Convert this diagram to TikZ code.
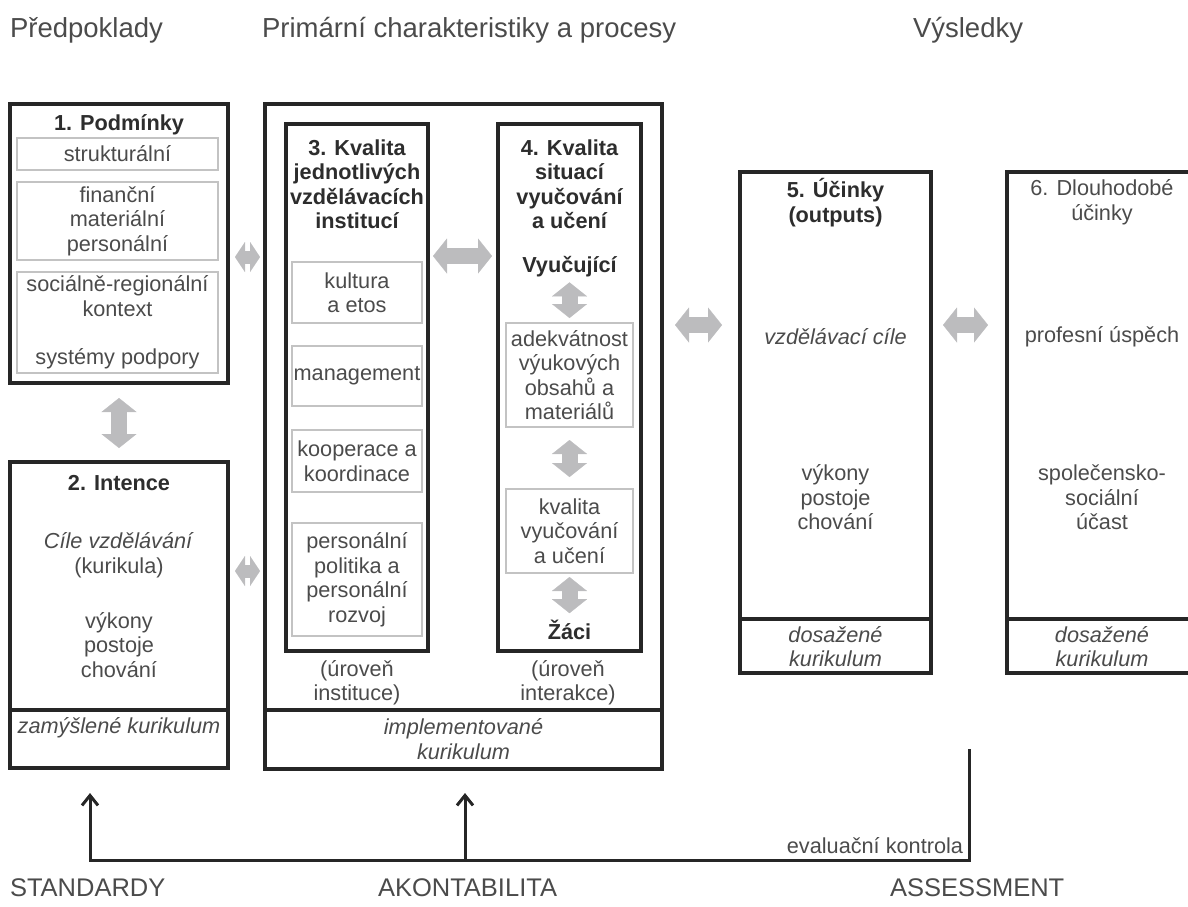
\documentclass[tikz,border=0pt]{standalone}
\usepackage{fontspec}
\setmainfont{Liberation Sans}
\usetikzlibrary{arrows.meta}
\definecolor{boxline}{RGB}{38,38,38}
\definecolor{txtgray}{RGB}{75,75,75}
\definecolor{titlegray}{RGB}{45,45,45}
\definecolor{innerline}{RGB}{195,195,195}
\definecolor{arrowgray}{RGB}{188,188,190}
\begin{document}
\begin{tikzpicture}[x=1pt, y=-1pt,
  every node/.style={inner sep=0pt, outer sep=0pt, align=center, text=txtgray,
    font=\fontsize{21.7}{24.5}\selectfont},
  thickbox/.style={draw=boxline, line width=3.5pt},
  thinbox/.style={draw=innerline, line width=1.2pt},
  ttl/.style={text=titlegray, font=\fontsize{21.7}{24.5}\selectfont\bfseries},
  itl/.style={font=\fontsize{21.7}{24.5}\selectfont\itshape},
  head/.style={anchor=west, font=\fontsize{27.5}{32}\selectfont},
  foot/.style={anchor=west, font=\fontsize{25.5}{30}\selectfont},
  fat/.style={draw=arrowgray, line width=16pt,
    {Triangle[length=14pt,width=35pt,line width=.1pt]}-{Triangle[length=14pt,width=35pt,line width=.1pt]}},
  slimfat/.style={draw=arrowgray, line width=13pt,
    {Triangle[length=10pt,width=30pt,line width=.1pt]}-{Triangle[length=10pt,width=30pt,line width=.1pt]}},
  fb/.style={draw=boxline, line width=3pt}
]
  \useasboundingbox (0,0) rectangle (1188,906);
  \clip (0,0) rectangle (1188,906);

  % headings
  \node[head] (hpred) at (10,30) {Předpoklady};
  \node[head] (hprim) at (262,30) {Primární charakteristiky a procesy};
  \node[head] (hvys) at (913,30) {Výsledky};

  % 1. Podminky
  \node[thickbox, minimum width=218pt, minimum height=279pt] (b1) at (119,243.5) {};
  \node[ttl] (t1) at (119,125) {1. Podmínky};
  \node[thinbox, minimum width=201pt, minimum height=32pt] (p1) at (117.5,154) {strukturální};
  \node[thinbox, minimum width=201pt, minimum height=78pt] (p2) at (117.5,221) {finanční\\materiální\\personální};
  \node[thinbox, minimum width=201pt, minimum height=101pt] (p3) at (117.5,322.5) {sociálně-regionální\\kontext\\[24pt]systémy podpory};

  % 2. Intence
  \node[thickbox, minimum width=218pt, minimum height=306pt] (b2) at (119,615) {};
  \draw[thickbox] (b2.west |- 0,710) -- (b2.east |- 0,710);
  \node[ttl] (t2) at (119,483) {2. Intence};
  \node (cile) at (119,555) {\textit{Cíle vzdělávání}\\(kurikula)};
  \node (vyk2) at (119,645) {výkony\\postoje\\chování};
  \node[itl] (zam) at (119,728) {zamýšlené kurikulum};

  % primarni charakteristiky
  \node[thickbox, minimum width=397pt, minimum height=665pt] (big) at (463.5,436.5) {};
  \draw[thickbox] (big.west |- 0,710) -- (big.east |- 0,710);
  \node[itl] (impl) at (463.5,739) {implementované\\kurikulum};

  % 3. instituce
  \node[thickbox, minimum width=142pt, minimum height=527pt] (b3) at (357,387.5) {};
  \node[ttl] (t3) at (357,184) {3. Kvalita\\jednotlivých\\vzdělávacích\\institucí};
  \node[thinbox, minimum width=130pt, minimum height=61pt] (k1) at (357,292.5) {kultura\\a etos};
  \node[thinbox, minimum width=130pt, minimum height=60pt] (k2) at (357,376) {management};
  \node[thinbox, minimum width=130pt, minimum height=62pt] (k3) at (357,461) {kooperace a\\koordinace};
  \node[thinbox, minimum width=130pt, minimum height=113pt] (k4) at (357,579.5) {personální\\politika a\\personální\\rozvoj};
  \node (ur3) at (357,682.5) {(úroveň\\instituce)};

  % 4. vyucovani
  \node[thickbox, minimum width=143pt, minimum height=527pt] (b4) at (569.5,387.5) {};
  \node[ttl] (t4) at (569.5,184) {4. Kvalita\\situací\\vyučování\\a učení};
  \node[ttl] (vyuc) at (569.5,267) {Vyučující};
  \node[thinbox, minimum width=127pt, minimum height=104pt] (a1) at (569.5,375) {adekvátnost\\výukových\\obsahů a\\materiálů};
  \node[thinbox, minimum width=127pt, minimum height=84pt] (a2) at (569.5,531) {kvalita\\vyučování\\a učení};
  \node[ttl] (zaci) at (569.5,630) {Žáci};
  \node (ur4) at (568,682.5) {(úroveň\\interakce)};

  % 5. ucinky
  \node[thickbox, minimum width=191pt, minimum height=501pt] (b5) at (835.5,422.5) {};
  \draw[thickbox] (b5.west |- 0,619) -- (b5.east |- 0,619);
  \node[ttl] (t5) at (835.5,202.5) {5. Účinky\\(outputs)};
  \node[itl] (cil5) at (835.5,337) {vzdělávací cíle};
  \node (vyk5) at (835.5,497.5) {výkony\\postoje\\chování};
  \node[itl] (dos5) at (835.5,646.5) {dosažené\\kurikulum};

  % 6. dlouhodobe ucinky
  \node[thickbox, minimum width=190pt, minimum height=501pt] (b6) at (1102,422.5) {};
  \draw[thickbox] (b6.west |- 0,619) -- (b6.east |- 0,619);
  \node (t6) at (1102,202.5) {6. Dlouhodobé\\účinky};
  \node (usp) at (1102,337) {profesní úspěch};
  \node (ucast) at (1102,497.5) {společensko-\\sociální\\účast};
  \node[itl] (dos6) at (1102,646.5) {dosažené\\kurikulum};

  % sede sipky
  \draw[fat, shorten <=15pt, shorten >=14pt] (b1.south) -- (b2.north);
  \draw[slimfat, shorten <=7pt, shorten >=5pt] (b1.east |- 0,257) -- (big.west |- 0,257);
  \draw[slimfat, shorten <=7pt, shorten >=5pt] (b2.east |- 0,571) -- (big.west |- 0,571);
  \draw[fat, shorten <=5pt, shorten >=6pt] (b3.east |- 0,256) -- (b4.west |- 0,256);
  \draw[fat, shorten <=13pt, shorten >=18pt] (big.east |- 0,325) -- (b5.west |- 0,325);
  \draw[fat, shorten <=12pt, shorten >=19pt] (b5.east |- 0,325) -- (b6.west |- 0,325);
  \draw[fat, shorten <=5pt, shorten >=5pt] (vyuc) -- (a1);
  \draw[fat, shorten <=13pt, shorten >=12pt] (a1) -- (a2);
  \draw[fat, shorten <=4pt, shorten >=7pt] (a2) -- (zaci);

  % evaluacni kontrola
  \coordinate (evtop) at (969,749);
  \coordinate (evbot) at (969,860);
  \coordinate (stdtip) at (90,793);
  \coordinate (akttip) at (465,793);
  \draw[fb, -{Straight Barb[length=10pt,width=16pt]}] (evtop) -- (evbot) -- (stdtip |- evbot) -- (stdtip);
  \draw[fb, -{Straight Barb[length=10pt,width=16pt]}] (akttip |- evbot) -- (akttip);
  \node[anchor=east] (evlab) at (963,846) {evaluační kontrola};

  % dole
  \node[foot] (hstd) at (10,888) {STANDARDY};
  \node[foot] (hakt) at (378,888) {AKONTABILITA};
  \node[foot] (hass) at (890,888) {ASSESSMENT};
\end{tikzpicture}
\end{document}
